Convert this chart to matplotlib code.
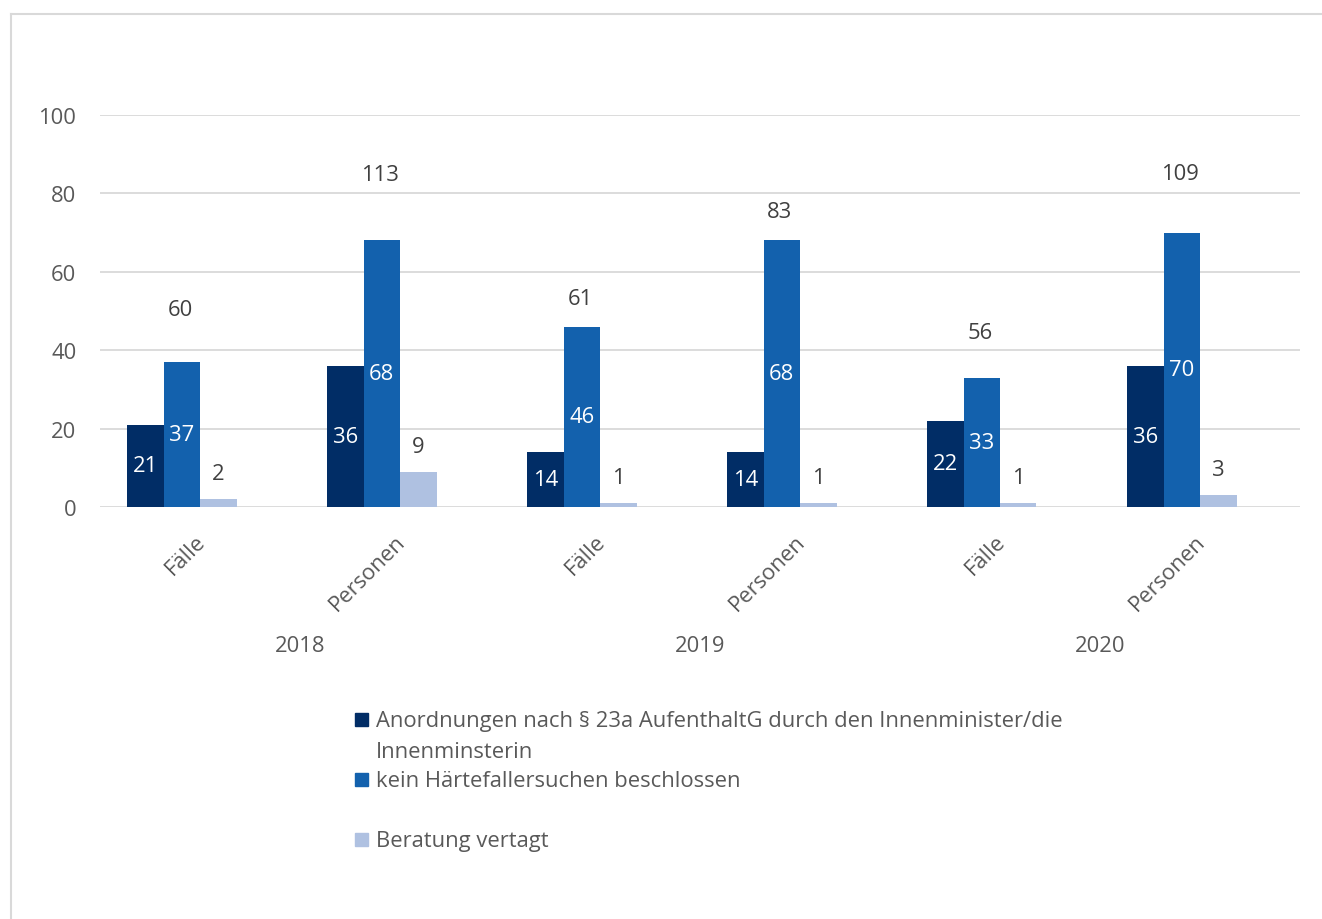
import matplotlib.pyplot as plt
from matplotlib.lines import Line2D
from matplotlib.patches import Rectangle
import numpy as np

plt.rcParams['font.family'] = ['Open Sans', 'DejaVu Sans']

categories = ['Fälle', 'Personen', 'Fälle', 'Personen', 'Fälle', 'Personen']
years = ['2018', '2019', '2020']

anordnungen = [21, 36, 14, 14, 22, 36]
kein_ersuchen = [37, 68, 46, 68, 33, 70]
vertagt = [2, 9, 1, 1, 1, 3]
totals = [60, 113, 61, 83, 56, 109]
# heights at which the totals are written
total_label_y = [50.3, 84.9, 53.1, 75.3, 44.6, 85.2]

series_labels = [
    'Anordnungen nach § 23a AufenthaltG durch den Innenminister/die\nInnenminsterin',
    'kein Härtefallersuchen beschlossen',
    'Beratung vertagt',
]
colors = ['#012d66', '#1361ad', '#afc1e1']

FS = 15.8
W, H = 1322, 920
fig = plt.figure(figsize=(W / 100, H / 100), dpi=100)
ax = fig.add_axes([100 / W, 1 - 508 / H, 1200 / W, (508 - 116) / H])

x = np.arange(len(categories))
bw = 0.1825
# four slots per category, the fourth one stays empty
offsets = [-1.5 * bw, -0.5 * bw, 0.5 * bw]

bars = []
for vals, off, col in zip([anordnungen, kein_ersuchen, vertagt], offsets, colors):
    bars.append(ax.bar(x + off, vals, width=bw, color=col, zorder=3))

for rect, v in zip(bars[0], anordnungen):
    ax.text(rect.get_x() + rect.get_width() / 2, v / 2, str(v), ha='center',
            va='center', color='white', fontsize=FS, zorder=4)
for rect, v in zip(bars[1], kein_ersuchen):
    ax.text(rect.get_x() + rect.get_width() / 2, v / 2, str(v), ha='center',
            va='center', color='white', fontsize=FS, zorder=4)
for rect, v in zip(bars[2], vertagt):
    ax.annotate(str(v), (rect.get_x() + rect.get_width() / 2, v),
                xytext=(0, 18.5), textcoords='offset points', ha='center',
                va='center', color='#404040', fontsize=FS)

for i, (t, ty) in enumerate(zip(totals, total_label_y)):
    ax.text(i - 0.1, ty, str(t), ha='center', va='center', color='#404040',
            fontsize=FS)

ax.set_xlim(-0.5, len(categories) - 0.5)
ax.set_ylim(0, 100)
ax.set_yticks(np.arange(0, 101, 20))
ax.yaxis.grid(True, color='#d9d9d9', linewidth=1.3, zorder=0)
ax.tick_params(axis='y', length=0, pad=17, labelsize=FS, labelcolor='#595959')
ax.set_xticks([])
for s in ax.spines.values():
    s.set_visible(False)

# rotated category names under each group of bars
for i, c in enumerate(categories):
    ax.annotate(c, (i + 0.05, 0), xytext=(0, -17), textcoords='offset points',
                rotation=45, ha='right', va='top', fontsize=FS,
                color='#595959', annotation_clip=False)

for j, yr in enumerate(years):
    fig.text((300 + 400 * j) / W, 1 - 647 / H, yr, ha='center', va='center',
             fontsize=FS, color='#595959')

# legend drawn by hand
legend_rows = [720, 780, 840]
for lab, col, ry in zip(series_labels, colors, legend_rows):
    fig.patches.append(Rectangle((355 / W, 1 - (ry + 7) / H), 13 / W, 13 / H,
                                 transform=fig.transFigure, color=col))
    fig.text(376 / W, 1 - (ry - 9) / H, lab, ha='left', va='top', fontsize=FS,
             color='#595959', linespacing=1.62)

# outer chart frame
fig.lines.append(Line2D([11 / W, 11 / W], [0, 1 - 15 / H],
                        transform=fig.transFigure, color='#d9d9d9', linewidth=1.5))
fig.lines.append(Line2D([11 / W, 1], [1 - 15 / H, 1 - 15 / H],
                        transform=fig.transFigure, color='#d9d9d9', linewidth=1.5))

fig.savefig('out.png', dpi=100)
